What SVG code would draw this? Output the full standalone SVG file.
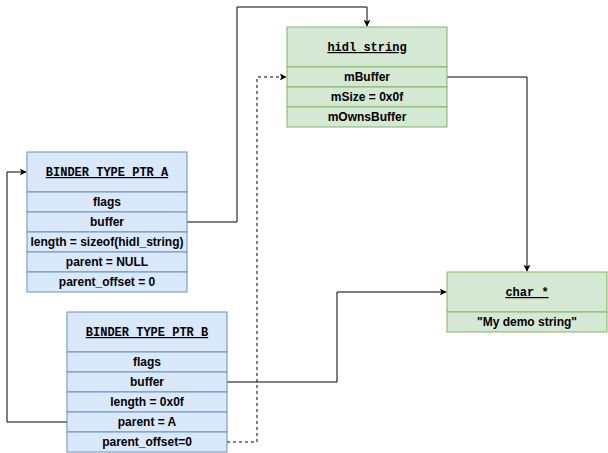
<svg xmlns="http://www.w3.org/2000/svg" width="608" height="453" viewBox="0 0 608 453">
<style>
.b rect{fill:#dae8fc;stroke:#6c8ebf;stroke-width:1}
.g rect{fill:#d5e8d4;stroke:#82b366;stroke-width:1}
.h{font-family:"Liberation Mono",monospace;font-weight:bold;font-size:12px;text-decoration:underline;text-anchor:middle}
.r{font-family:"Liberation Sans",Arial,sans-serif;font-weight:bold;font-size:12px;text-anchor:middle}
#edges path{fill:none;stroke:#000;stroke-width:1;marker-end:url(#ar)}
</style>
<defs><marker id="ar" viewBox="0 0 10 10" refX="9" refY="5" markerWidth="7" markerHeight="7" orient="auto" markerUnits="userSpaceOnUse"><path d="M0,0 L10,5 L0,10 L2.5,5 Z" fill="#000"/></marker></defs>
<rect width="608" height="453" fill="#fff"/>
<g id="edges">
<path d="M187,222 H237 V7 H367 V26"/>
<path d="M447,77 H527 V271"/>
<path d="M227,382 H337 V292 H446"/>
<path d="M67,422 H7 V172 H26"/>
<path d="M227,442 H257 V77 H286" stroke-dasharray="3,3"/>
</g>
<g id="nodeA" class="b">
<rect x="27" y="152" width="160" height="40"/><text class="h" x="107" y="176">BINDER_TYPE_PTR_A</text>
<rect x="27" y="192" width="160" height="20"/><text class="r" x="107" y="206">flags</text>
<rect x="27" y="212" width="160" height="20"/><text class="r" x="107" y="226">buffer</text>
<rect x="27" y="232" width="160" height="20"/><text class="r" x="107" y="246">length = sizeof(hidl_string)</text>
<rect x="27" y="252" width="160" height="20"/><text class="r" x="107" y="266">parent = NULL</text>
<rect x="27" y="272" width="160" height="20"/><text class="r" x="107" y="286">parent_offset = 0</text>
</g>
<g id="nodeB" class="b">
<rect x="67" y="312" width="160" height="40"/><text class="h" x="147" y="336">BINDER_TYPE_PTR_B</text>
<rect x="67" y="352" width="160" height="20"/><text class="r" x="147" y="366">flags</text>
<rect x="67" y="372" width="160" height="20"/><text class="r" x="147" y="386">buffer</text>
<rect x="67" y="392" width="160" height="20"/><text class="r" x="147" y="406">length = 0x0f</text>
<rect x="67" y="412" width="160" height="20"/><text class="r" x="147" y="426">parent = A</text>
<rect x="67" y="432" width="160" height="20"/><text class="r" x="147" y="446">parent_offset=0</text>
</g>
<g id="hidl" class="g">
<rect x="287" y="27" width="160" height="40"/><text class="h" x="367" y="51">hidl_string</text>
<rect x="287" y="67" width="160" height="20"/><text class="r" x="367" y="81">mBuffer</text>
<rect x="287" y="87" width="160" height="20"/><text class="r" x="367" y="101">mSize = 0x0f</text>
<rect x="287" y="107" width="160" height="20"/><text class="r" x="367" y="121">mOwnsBuffer</text>
</g>
<g id="char" class="g">
<rect x="447" y="272" width="160" height="40"/><text class="h" x="527" y="296">char_*</text>
<rect x="447" y="312" width="160" height="20"/><text class="r" x="527" y="326">"My demo string"</text>
</g>
</svg>
